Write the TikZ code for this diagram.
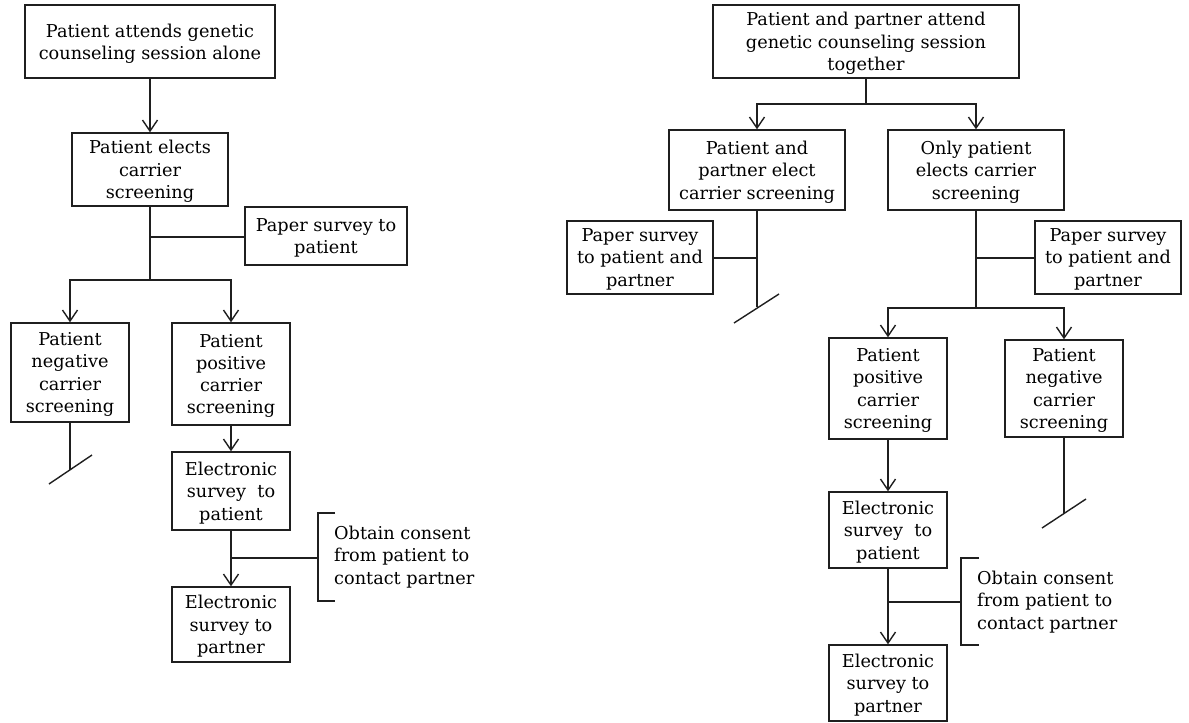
\documentclass[tikz,border=0pt]{standalone}
\usepackage{fontspec}
\setmainfont{DejaVu Serif}
\usetikzlibrary{arrows.meta}
\tikzset{
  box/.style={draw=black!88, line width=1.4pt, align=center, inner sep=2pt,
    text depth=-2pt, font=\fontsize{17.7}{22.3}\selectfont},
  conn/.style={draw=black!88, line width=1.4pt},
  arr/.style={conn, -{Straight Barb[length=11pt,width=15pt,line width=1.4pt]}},
  note/.style={align=left, inner sep=0pt, anchor=west, font=\fontsize{17.7}{22.3}\selectfont},
}
\begin{document}
\begin{tikzpicture}[x=1pt,y=-1pt]
\useasboundingbox (0,0) rectangle (1189,723);
% ---------- left tree ----------
\node[box, minimum width=250, minimum height=73] (A) at (150,41.5) {Patient attends genetic\\counseling session alone};
\node[box, minimum width=156, minimum height=73] (B) at (150,169.5) {Patient elects\\carrier\\screening};
\node[box, minimum width=162, minimum height=58] (P1) at (326,236) {Paper survey to\\patient};
\node[box, minimum width=118, minimum height=99] (N1) at (70,372.5) {Patient\\negative\\carrier\\screening};
\node[box, minimum width=118, minimum height=102] (Q1) at (231,374) {Patient\\positive\\carrier\\screening};
\node[box, minimum width=118, minimum height=78] (E1) at (231,491) {Electronic\\survey~ to\\patient};
\node[box, minimum width=118, minimum height=75] (F1) at (231,624.5) {Electronic\\survey to\\partner};
\node[note] (O1) at (334,557) {Obtain consent\\from patient to\\contact partner};

\coordinate (b1) at (150,280);
\coordinate (j1) at (150,237);
\coordinate (n1end) at (70,470);
\coordinate (k1) at (231,558);
\coordinate (br1) at (318,558);

\draw[arr] (A) -- (B);
\draw[conn] (B.south) -- (b1);
\draw[conn] (j1) -- (P1.west |- j1);
\draw[arr] (b1) -| (N1.north);
\draw[arr] (b1) -| (Q1.north);
\draw[conn] (N1.south) -- (n1end);
\draw[conn] (49,484) -- (92,455);
\draw[arr] (Q1) -- (E1);
\draw[arr] (E1) -- (F1);
\draw[conn] (k1) -- (br1);
\draw[conn] (335,513) -- (318,513) -- (318,601) -- (335,601);

% ---------- right tree ----------
\node[box, minimum width=306, minimum height=73] (R) at (866,41.5) {Patient and partner attend\\genetic counseling session\\together};
\node[box, minimum width=176, minimum height=80] (S) at (757,170) {Patient and\\partner elect\\carrier screening};
\node[box, minimum width=176, minimum height=80] (T) at (976,170) {Only patient\\elects carrier\\screening};
\node[box, minimum width=146, minimum height=73] (P2) at (640,257.5) {Paper survey\\to patient and\\partner};
\node[box, minimum width=146, minimum height=73] (P3) at (1108,257.5) {Paper survey\\to patient and\\partner};
\node[box, minimum width=118, minimum height=101] (Q2) at (888,388.5) {Patient\\positive\\carrier\\screening};
\node[box, minimum width=118, minimum height=97] (N2) at (1064,388.5) {Patient\\negative\\carrier\\screening};
\node[box, minimum width=118, minimum height=76] (E2) at (888,530) {Electronic\\survey~ to\\patient};
\node[box, minimum width=118, minimum height=76] (F2) at (888,683) {Electronic\\survey to\\partner};
\node[note] (O2) at (977,602) {Obtain consent\\from patient to\\contact partner};

\coordinate (b2) at (866,104);
\coordinate (s2end) at (757,307);
\coordinate (j2) at (757,258);
\coordinate (b3) at (976,308);
\coordinate (j3) at (976,258);
\coordinate (n2end) at (1064,513);
\coordinate (k2) at (888,602);
\coordinate (br2) at (961,602);

\draw[conn] (R.south) -- (b2);
\draw[arr] (b2) -| (S.north);
\draw[arr] (b2) -| (T.north);
\draw[conn] (S.south) -- (s2end);
\draw[conn] (734,323) -- (779,294);
\draw[conn] (j2) -- (P2.east |- j2);
\draw[conn] (T.south) -- (b3);
\draw[conn] (j3) -- (P3.west |- j3);
\draw[arr] (b3) -| (Q2.north);
\draw[arr] (b3) -| (N2.north);
\draw[conn] (N2.south) -- (n2end);
\draw[conn] (1042,528) -- (1086,499);
\draw[arr] (Q2) -- (E2);
\draw[arr] (E2) -- (F2);
\draw[conn] (k2) -- (br2);
\draw[conn] (979,558) -- (961,558) -- (961,645) -- (979,645);
\end{tikzpicture}
\end{document}
